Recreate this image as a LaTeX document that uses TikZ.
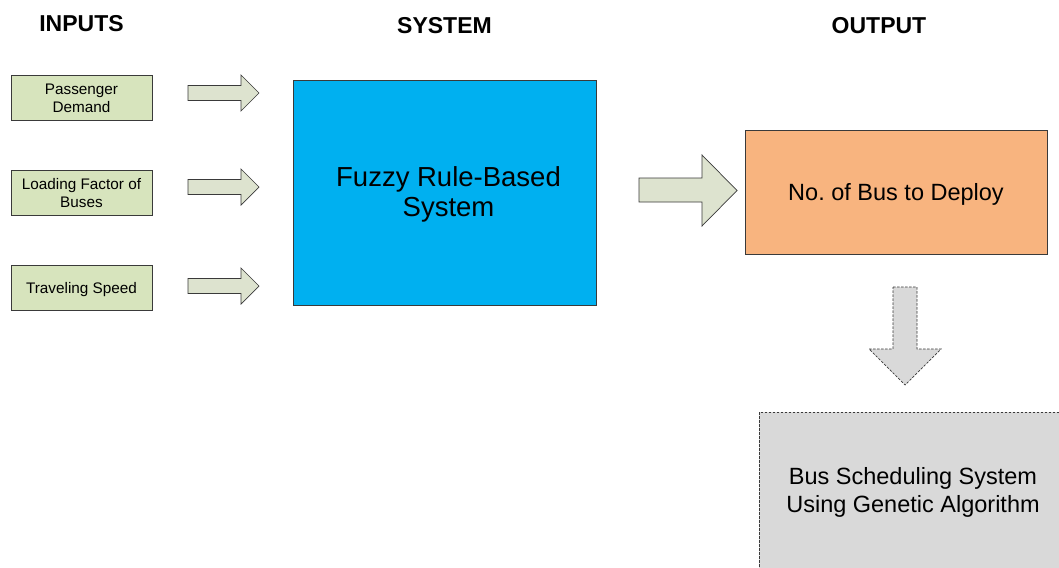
\documentclass[tikz,border=0pt]{standalone}
\usepackage{fontspec}
\setmainfont{Liberation Sans}
\frenchspacing
\definecolor{ingreen}{HTML}{D7E4BD}
\definecolor{arrgreen}{HTML}{DDE3CF}
\definecolor{sysblue}{HTML}{00B0F0}
\definecolor{outorange}{HTML}{F8B47F}
\definecolor{schgray}{HTML}{D9D9D9}
\definecolor{edgegray}{HTML}{3A3A3A}
\begin{document}
\begin{tikzpicture}[x=1pt,y=-1pt,
  inbox/.style={draw=edgegray,line width=0.8pt,fill=ingreen,minimum width=141pt,minimum height=45pt,inner sep=0pt},
  intext/.style={inner sep=0pt,align=center,font=\fontsize{15.3}{18}\selectfont},
  bigbox/.style={draw=edgegray,line width=0.8pt,inner sep=0pt},
  bigtext/.style={inner sep=0pt,align=center,font=\fontsize{23.5}{28}\selectfont},
  header/.style={font=\fontsize{23}{26}\selectfont\bfseries},
  blockarr/.style={draw=edgegray,line width=0.7pt,fill=arrgreen,line join=miter},
  dashstyle/.style={dashed,dash pattern=on 2.5pt off 1.5pt},
  dasharr/.style={draw=edgegray,line width=0.7pt,fill=schgray,dashstyle}
]
\useasboundingbox (0,0) rectangle (1059,567);
\fill[white] (0,0) rectangle (1059,567);

% headers
\node[header] (hin) at (81.5,24) {INPUTS};
\node[header] (hsys) at (444.5,26) {SYSTEM};
\node[header] (hout) at (879,26) {OUTPUT};

% input boxes
\node[inbox] (pd) at (81.5,97.5) {};
\node[intext] (pdt) at ([yshift=-0.5pt]pd.center) {Passenger\\Demand};
\node[inbox] (lf) at (81.5,193) {};
\node[intext] (lft) at ([yshift=-0.5pt]lf.center) {Loading Factor of\\Buses};
\node[inbox] (ts) at (81.5,288) {};
\node[intext] (tst) at ([yshift=-1.5pt]ts.center) {Traveling Speed};

% system
\node[bigbox,fill=sysblue,minimum width=303pt,minimum height=225pt] (sys) at (444.5,192.5) {};
\node[bigtext,font=\fontsize{27.5}{30}\selectfont] (syst) at ([xshift=4pt,yshift=-1.5pt]sys.center) {Fuzzy Rule-Based\\System};

% output
\node[bigbox,fill=outorange,minimum width=302pt,minimum height=124pt] (out) at (896,192) {};
\node[bigtext] (outt) at ([yshift=-2.5pt]out.center) {No. of Bus to Deploy};

% scheduling
\node[bigbox,fill=schgray,dashstyle,minimum width=308pt,minimum height=156pt] (sch) at (913,490) {};
\node[bigtext] (scht) at ([yshift=-2.5pt]sch.center) {Bus Scheduling System\\Using Genetic Algorithm};

% small input arrows
\draw[blockarr] (188,85.5) -- (241,85.5) -- (241,75) -- (259,93) -- (241,111) -- (241,100.5) -- (188,100.5) -- cycle;
\draw[blockarr] (188,179.5) -- (241,179.5) -- (241,169) -- (259,187) -- (241,205) -- (241,194.5) -- (188,194.5) -- cycle;
\draw[blockarr] (188,278.5) -- (241,278.5) -- (241,268) -- (259,286) -- (241,304) -- (241,293.5) -- (188,293.5) -- cycle;

% big arrow system -> output
\draw[blockarr] (639,178) -- (702,178) -- (702,155) -- (737,190.5) -- (702,226) -- (702,202) -- (639,202) -- cycle;

% dashed down arrow output -> scheduling
\draw[dasharr] (893,287) -- (917,287) -- (917,349) -- (941,349) -- (905,385) -- (869,349) -- (893,349) -- cycle;
\end{tikzpicture}
\end{document}
